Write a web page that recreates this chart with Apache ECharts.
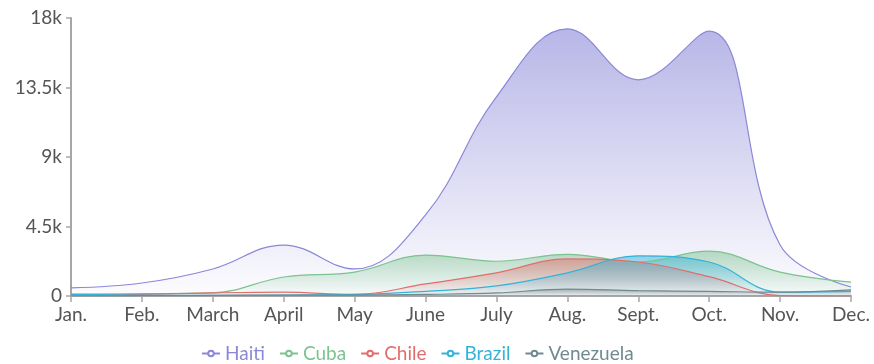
<!DOCTYPE html>
<html>
<head>
<meta charset="utf-8">
<script src="https://cdn.jsdelivr.net/npm/echarts@6/dist/echarts.min.js"></script>
<style>
  html, body { margin: 0; padding: 0; background: #fff; }
  #chart { width: 874px; height: 364px; }
</style>
</head>
<body>
<div id="chart"></div>
<script>
const months = ['Jan.', 'Feb.', 'March', 'April', 'May', 'June', 'July', 'Aug.', 'Sept.', 'Oct.', 'Nov.', 'Dec.'];

const haiti = [520, 840, 1750, 3300, 1750, 5250, 12900, 17300, 14000, 17150, 3300, 580];
const cuba = [130, 150, 200, 1230, 1550, 2650, 2250, 2700, 2200, 2900, 1550, 900];
const chile = [50, 100, 200, 250, 100, 780, 1500, 2400, 2200, 1250, 30, 0];
const brazil = [100, 60, 40, 60, 100, 300, 650, 1500, 2600, 2200, 250, 300];
const venezuela = [0, 20, 40, 60, 60, 100, 200, 450, 350, 300, 250, 400];

const names = ['Haiti', 'Cuba', 'Chile', 'Brazil', 'Venezuela'];
const colors = ['#8b88d8', '#7cc38f', '#e26d6d', '#35b2d8', '#6f8a90'];
const values = [haiti, cuba, chile, brazil, venezuela];

const fontFamily = 'Lato, "Noto Sans", sans-serif';

function areaFill(hex, topAlpha) {
  const r = parseInt(hex.slice(1, 3), 16);
  const g = parseInt(hex.slice(3, 5), 16);
  const b = parseInt(hex.slice(5, 7), 16);
  return new echarts.graphic.LinearGradient(0, 0, 0, 1, [
    { offset: 0, color: `rgba(${r},${g},${b},${topAlpha})` },
    { offset: 1, color: `rgba(${r},${g},${b},0.03)` }
  ]);
}

const chart = echarts.init(document.getElementById('chart'), null, { renderer: 'canvas' });

chart.setOption({
  animation: false,
  grid: { left: 71, right: 23, top: 18, bottom: 68 },
  legend: {
    top: 339,
    left: 196,
    itemWidth: 18,
    itemHeight: 7,
    itemGap: 14,
    textStyle: { fontFamily, fontSize: 19, padding: [0, 0, 0, 0] },
    data: names.map((n, i) => ({ name: n, textStyle: { color: colors[i] } }))
  },
  xAxis: {
    type: 'category',
    boundaryGap: false,
    data: months,
    axisLine: { lineStyle: { color: '#a6a6a6', width: 2 } },
    axisTick: { show: true, alignWithLabel: true, length: 6, lineStyle: { color: '#a6a6a6', width: 1.5 } },
    axisLabel: { color: '#555', fontFamily, fontSize: 19, margin: 9 }
  },
  yAxis: {
    type: 'value',
    min: 0,
    max: 18000,
    interval: 4500,
    splitLine: { show: false },
    axisLine: { show: true, lineStyle: { color: '#a6a6a6', width: 2 } },
    axisTick: { show: true, length: 5, lineStyle: { color: '#a6a6a6', width: 1.5 } },
    axisLabel: {
      color: '#555', fontFamily, fontSize: 19, margin: 9,
      formatter: v => v === 0 ? '0' : (v / 1000) + 'k'
    }
  },
  series: names.map((n, i) => ({
    name: n,
    type: 'line',
    smooth: 0.4,
    showSymbol: false,
    symbol: 'emptyCircle',
    data: values[i],
    lineStyle: { color: colors[i], width: 1.2 },
    itemStyle: { color: colors[i] },
    areaStyle: { color: areaFill(colors[i], i === 0 ? 0.88 : 0.75) }
  }))
});

window.addEventListener('resize', () => chart.resize());
</script>
</body>
</html>
